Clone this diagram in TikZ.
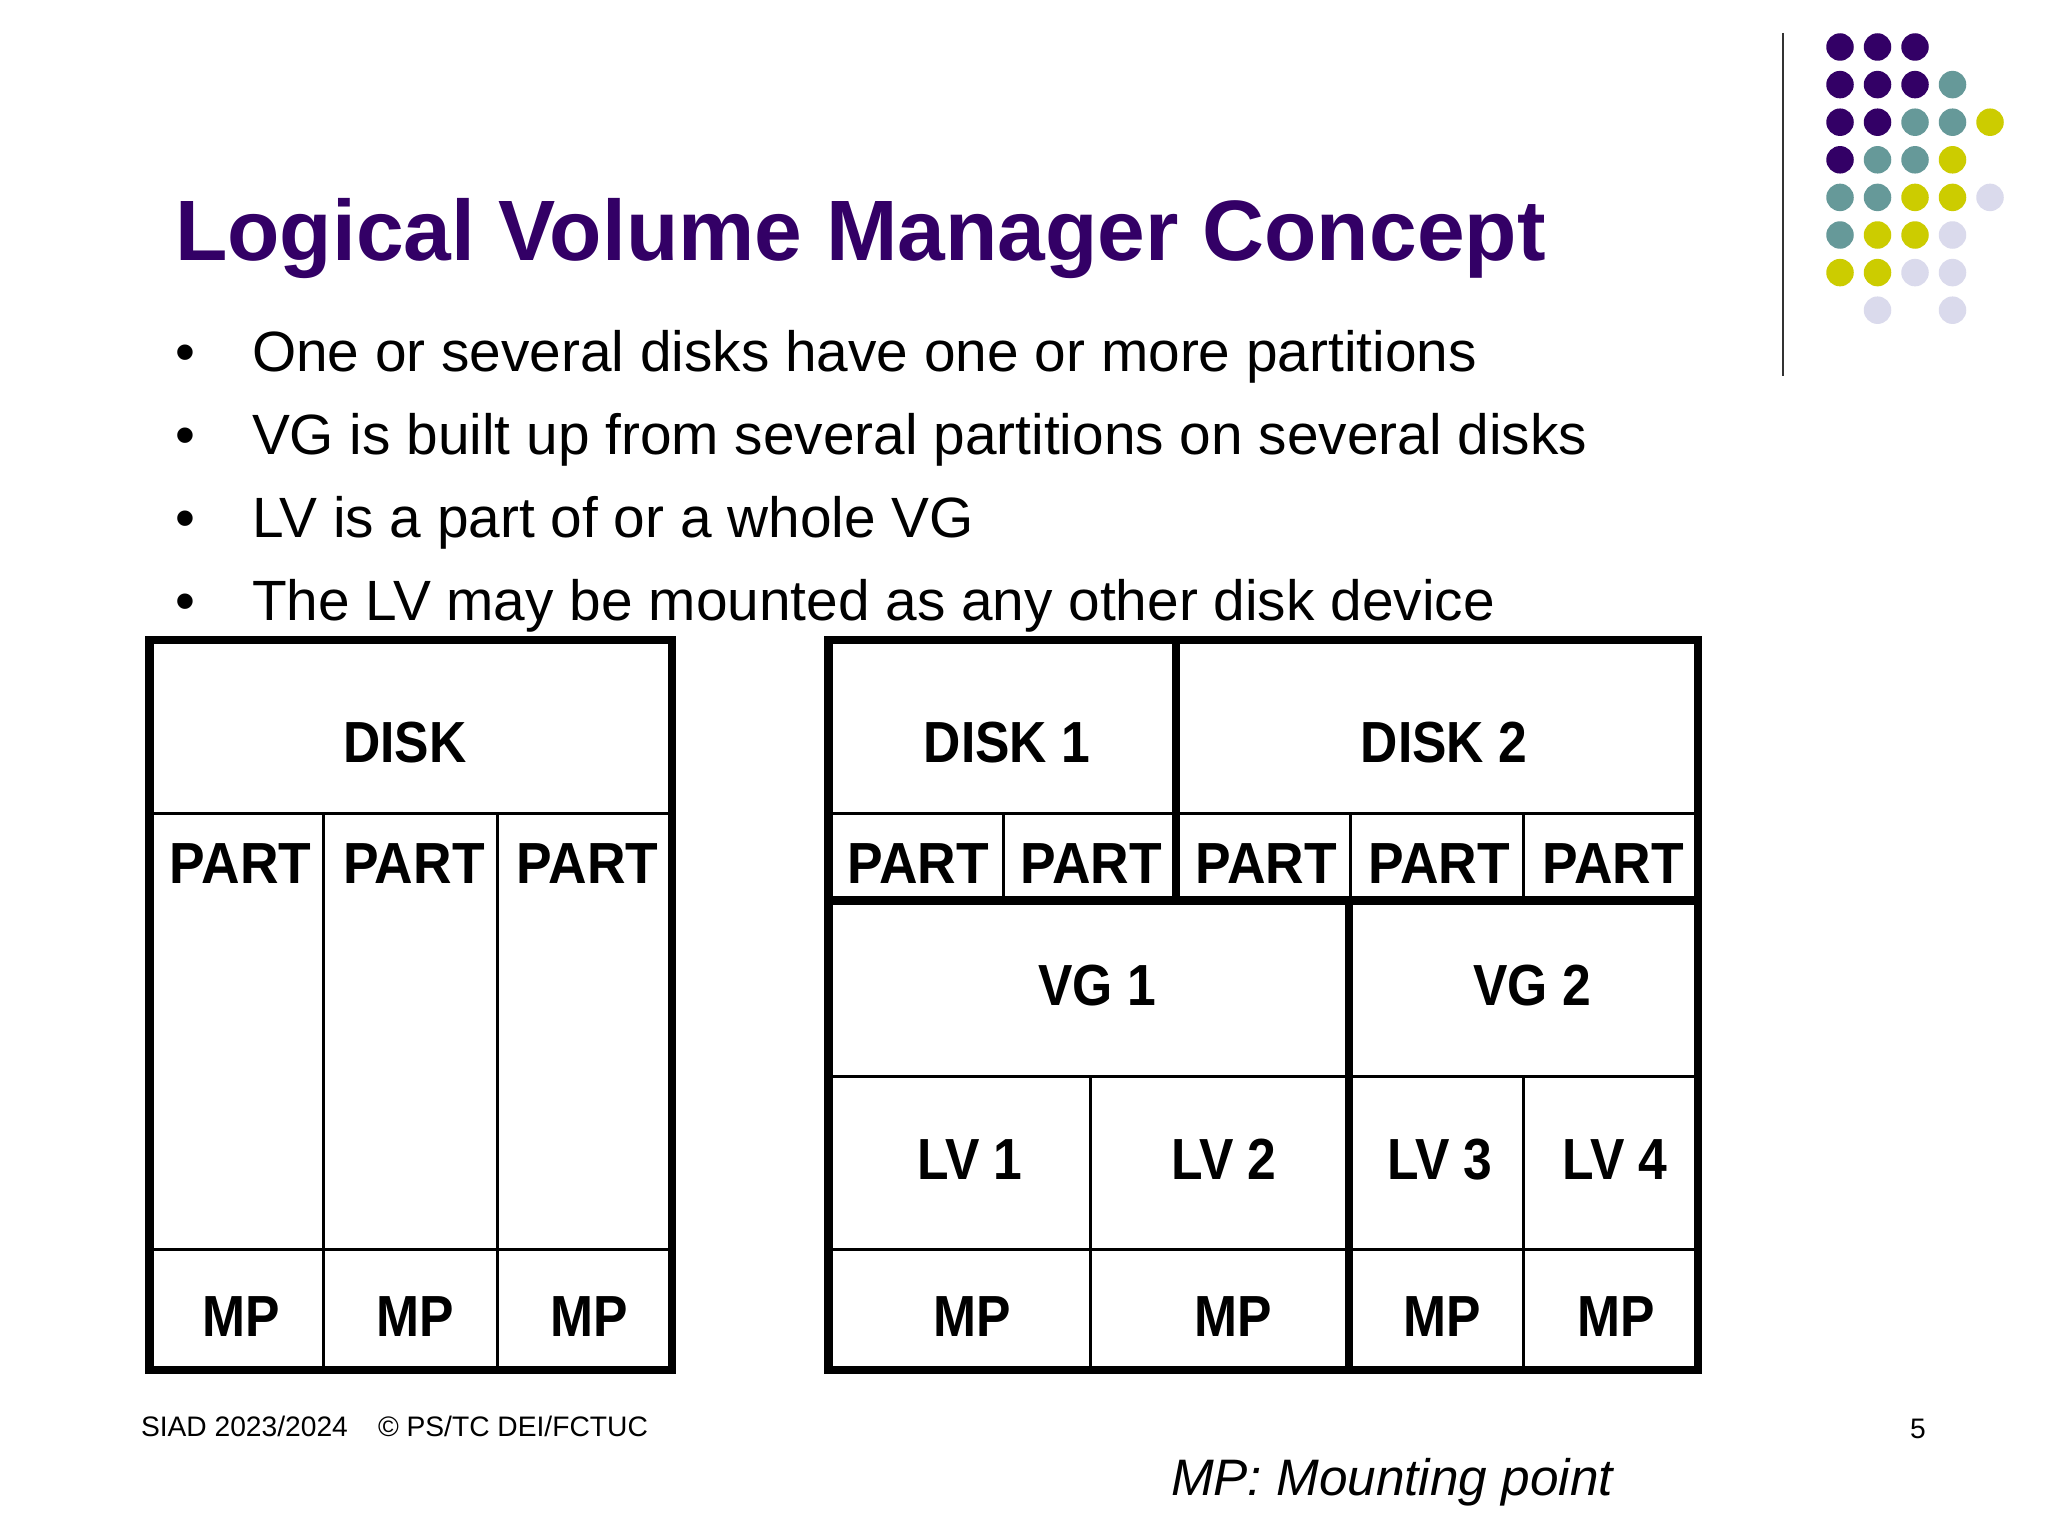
\documentclass[tikz,border=0pt]{standalone}
\usepackage{fontspec}
\setmainfont{Liberation Sans}
\newfontfamily\labfont[FakeStretch=0.89]{Liberation Sans}
\newfontfamily\partfont[FakeStretch=0.92]{Liberation Sans}
\definecolor{deckpurple}{HTML}{330066}
\definecolor{deckteal}{HTML}{669999}
\definecolor{deckyellow}{HTML}{CCCC00}
\definecolor{decklilac}{HTML}{DADAEC}
\definecolor{rulegrey}{HTML}{333333}
\newcommand{\fs}[1]{\fontsize{#1pt}{#1pt}\selectfont}
\tikzset{
  x=1pt,y=-1pt,
  txt/.style={inner sep=0pt,outer sep=0pt,anchor=base west},
  lab/.style={inner sep=0pt,outer sep=0pt,anchor=base,font=\labfont\bfseries\fs{58}},
  partlab/.style={lab,font=\partfont\bfseries\fs{58}},
  titletxt/.style={txt,font=\bfseries\fs{85.75},text=deckpurple},
  bodytxt/.style={txt,font=\fs{56.8}},
  foottxt/.style={txt,font=\fs{28.2}},
  thick box/.style={line width=8.5pt,line cap=rect},
  thin box/.style={line width=3pt},
  pdot/.style={circle,fill=deckpurple,minimum size=27.5pt,inner sep=0pt},
  tdot/.style={circle,fill=deckteal,minimum size=27.5pt,inner sep=0pt},
  ydot/.style={circle,fill=deckyellow,minimum size=27.5pt,inner sep=0pt},
  ldot/.style={circle,fill=decklilac,minimum size=27.5pt,inner sep=0pt},
}
\begin{document}
\begin{tikzpicture}
\useasboundingbox[fill=white] (0,0) rectangle (2048,1536);
% decoration
\coordinate (ruletop) at (1783,33);
\coordinate (rulebot) at (1783,376);
\draw[rulegrey,line width=2.5pt] (ruletop) -- (rulebot);
\foreach \c/\r/\s in {1/1/pdot,2/1/pdot,3/1/pdot,
  1/2/pdot,2/2/pdot,3/2/pdot,4/2/tdot,
  1/3/pdot,2/3/pdot,3/3/tdot,4/3/tdot,5/3/ydot,
  1/4/pdot,2/4/tdot,3/4/tdot,4/4/ydot,
  1/5/tdot,2/5/tdot,3/5/ydot,4/5/ydot,5/5/ldot,
  1/6/tdot,2/6/ydot,3/6/ydot,4/6/ldot,
  1/7/ydot,2/7/ydot,3/7/ldot,4/7/ldot,
  2/8/ldot,4/8/ldot}
  \node[\s] (d\c\r) at ({1840+37.5*(\c-1)},{47+37.6*(\r-1)}) {};
% title and bullets
\node[titletxt] (title) at (175,260) {Logical Volume Manager Concept};
\node[bodytxt] (b1) at (175,371) {•};
\node[bodytxt] (t1) at (252,371) {One or several disks have one or more partitions};
\node[bodytxt] (b2) at (175,454) {•};
\node[bodytxt] (t2) at (252,454) {VG is built up from several partitions on several disks};
\node[bodytxt] (b3) at (175,537) {•};
\node[bodytxt] (t3) at (252,537) {LV is a part of or a whole VG};
\node[bodytxt] (b4) at (175,620) {•};
\node[bodytxt] (t4) at (252,620) {The LV may be mounted as any other disk device};
% left table
\draw[thin box] (149.5,813) -- (672,813) (149.5,1249) -- (672,1249)
  (323.5,813) -- (323.5,1370) (497,813) -- (497,1370);
\draw[thick box] (149.5,640) rectangle (672,1370);
% right table
\draw[thin box] (828.5,813) -- (1698,813) (828.5,1076) -- (1698,1076) (828.5,1249) -- (1698,1249)
  (1003,813) -- (1003,900) (1350,813) -- (1350,900) (1523,813) -- (1523,900)
  (1090,1076) -- (1090,1370) (1523,1076) -- (1523,1370);
\draw[thick box] (828.5,640) rectangle (1698,1370);
\draw[thick box] (828.5,900.5) -- (1698,900.5) (1176,640) -- (1176,900.5) (1349,900.5) -- (1349,1370);
% labels
\node[lab] (disk) at (405,762) {DISK};
\node[partlab] (lp1) at (240.5,883) {PART};
\node[partlab] (lp2) at (414,883) {PART};
\node[partlab] (lp3) at (587.5,883) {PART};
\node[lab] (lm1) at (241,1336) {MP};
\node[lab] (lm2) at (415,1336) {MP};
\node[lab] (lm3) at (589,1336) {MP};
\node[lab] (disk1) at (1007,762) {DISK 1};
\node[lab] (disk2) at (1444,762) {DISK 2};
\node[partlab] (rp1) at (918,883) {PART};
\node[partlab] (rp2) at (1091,883) {PART};
\node[partlab] (rp3) at (1266,883) {PART};
\node[partlab] (rp4) at (1439,883) {PART};
\node[partlab] (rp5) at (1613,883) {PART};
\node[lab] (vg1) at (1097,1005.5) {VG 1};
\node[lab] (vg2) at (1532,1005.5) {VG 2};
\node[lab] (lv1) at (970,1179) {LV 1};
\node[lab] (lv2) at (1224,1179) {LV 2};
\node[lab] (lv3) at (1440,1179) {LV 3};
\node[lab] (lv4) at (1615,1179) {LV 4};
\node[lab] (rm1) at (972,1336) {MP};
\node[lab] (rm2) at (1233,1336) {MP};
\node[lab] (rm3) at (1442,1336) {MP};
\node[lab] (rm4) at (1616,1336) {MP};
% footer
\node[foottxt] (foot1) at (141,1436) {SIAD 2023/2024};
\node[foottxt] (foot2) at (378,1436) {© PS/TC DEI/FCTUC};
\node[foottxt] (page) at (1910,1438) {5};
\node[txt,font=\itshape\fs{51.3}] (mp) at (1171,1495) {MP: Mounting point};
\end{tikzpicture}
\end{document}
